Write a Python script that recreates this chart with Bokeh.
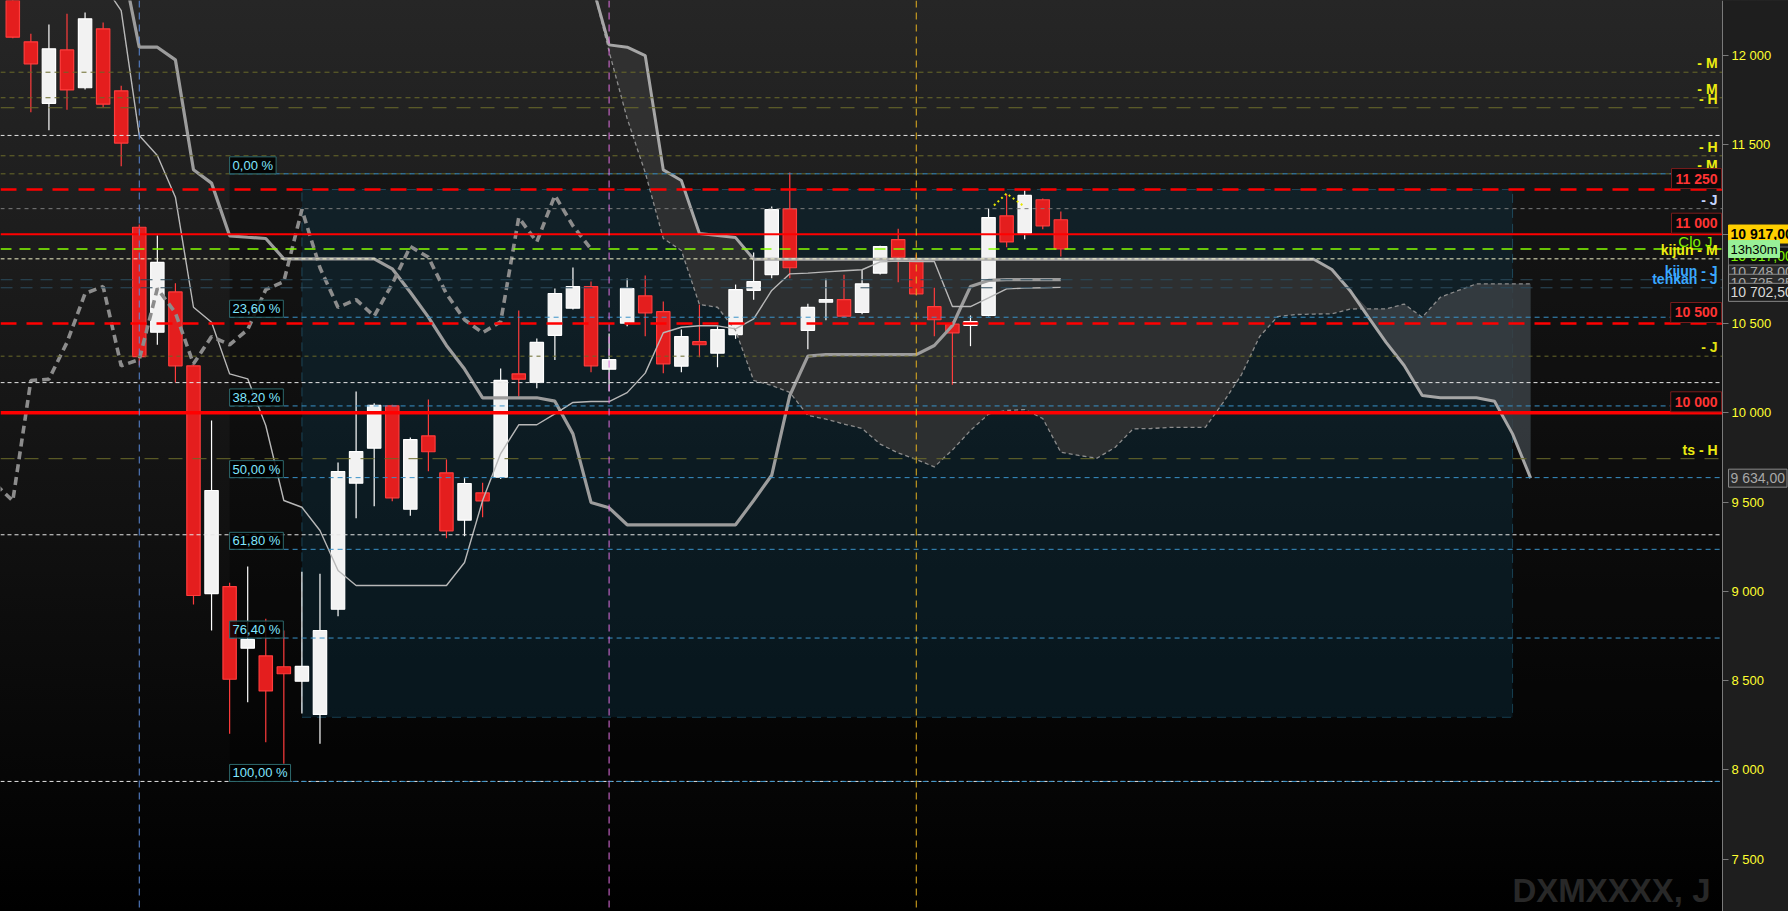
import numpy as np
from bokeh.plotting import figure
from bokeh.models import (ColumnDataSource, Span, Label, BoxAnnotation, FixedTicker,
                          CustomJSTickFormatter, Range1d, LinearAxis)
from bokeh.embed import file_html
from bokeh.resources import INLINE

# ---------------- data (daily candles, index 0..58) ----------------
OPEN = [12400, 12077, 11733, 12032, 11820, 12150, 11803, 11039, 10451, 10677,
        10263, 8988, 9027, 8682, 8639, 8578, 8497, 8311, 8900, 9606,
        9802, 10039, 9460, 9871, 9664, 9399, 9552, 9639, 10218, 10170,
        10434, 10586, 10707, 10244, 10502, 10655, 10566, 10261, 10398, 10334,
        10438, 10686, 10774, 11142, 10462, 10619, 10634, 10562, 10782, 10970,
        10857, 10594, 10496, 10490, 10546, 11103, 11006, 11193, 11081]
HIGH = [12450, 12122, 12174, 12234, 12241, 12185, 11831, 11054, 10993, 10726,
        10270, 9957, 9049, 9139, 8847, 8781, 9110, 9099, 9722, 10119,
        10054, 10045, 9862, 10074, 9739, 9634, 9608, 10248, 10573, 10416,
        10696, 10814, 10735, 10444, 10752, 10769, 10623, 10466, 10606, 10485,
        10718, 10897, 11155, 11345, 10610, 10750, 10773, 10801, 10935, 11030,
        10886, 10700, 10511, 10545, 11144, 11226, 11245, 11200, 11127]
LOW = [12097, 11683, 11582, 11697, 11810, 11711, 11381, 10265, 10381, 10170,
       8927, 8781, 8203, 8380, 8156, 8035, 8316, 8147, 8861, 9410,
       9477, 9505, 9423, 9673, 9298, 9309, 9415, 9630, 10091, 10138,
       10295, 10578, 10227, 10121, 10485, 10429, 10222, 10227, 10311, 10255,
       10414, 10633, 10754, 10754, 10356, 10518, 10535, 10552, 10774, 10731,
       10660, 10429, 10157, 10373, 10540, 10927, 10972, 11028, 10875]
CLOSE = [12103, 11954, 12038, 11808, 12206, 11728, 11510, 10314, 10842, 10263,
         8977, 9565, 8508, 8731, 8443, 8539, 8580, 8781, 9671, 9783,
         10041, 9524, 9850, 9782, 9339, 9604, 9507, 10181, 10188, 10394,
         10668, 10707, 10263, 10298, 10696, 10560, 10274, 10427, 10381, 10466,
         10690, 10735, 11138, 10812, 10590, 10634, 10541, 10722, 10931, 10871,
         10666, 10521, 10448, 10510, 11093, 10957, 11217, 11047, 10917]

# Ichimoku
TENKAN_START = 5
TENKAN = [12400, 12252, 11553, 11441, 11207, 10591, 10507, 10218, 10190, 9929,
          9509, 9471, 9341, 9117, 9033, 9033, 9033, 9033, 9033, 9033,
          9162, 9509, 9772, 9933, 9933, 9994, 10058, 10063, 10063, 10113,
          10222, 10448, 10479, 10487, 10487, 10470, 10526, 10685, 10778, 10782,
          10789, 10795, 10801, 10845, 10849, 10847, 10847, 10595, 10595, 10644,
          10694, 10698, 10700, 10702]
KIJUN_START = 6
KIJUN = [12550, 12047, 12047, 11976, 11361, 11286, 10991, 10983, 10976, 10862,
         10862, 10862, 10862, 10862, 10862, 10806, 10675, 10536, 10377, 10245,
         10084, 10084, 10084, 10084, 10065, 9882, 9498, 9468, 9373, 9373,
         9373, 9373, 9373, 9373, 9373, 9509, 9650, 10097, 10317, 10326,
         10326, 10326, 10326, 10326, 10326, 10377, 10489, 10707, 10741, 10746,
         10746, 10746, 10746]
SPAN_START = 32
SPAN_A = [12425, 12023, 11648, 11345, 10976, 10909, 10606, 10591, 10461, 10181,
          10153, 10114, 9985, 9965, 9937, 9912, 9825, 9775, 9739, 9697,
          9792, 9901, 9993, 10013, 10018, 9968, 9779, 9761, 9746, 9806,
          9910, 9912, 9918, 9918, 9919, 10060, 10214, 10427, 10539, 10550,
          10553, 10554, 10581, 10582, 10582, 10609, 10535, 10647, 10685, 10722,
          10722, 10722, 10722]
SPAN_B = [12420, 12060, 12047, 12000, 11360, 11301, 11004, 10993, 10981, 10860,
          10860, 10860, 10860, 10860, 10860, 10860, 10860, 10860, 10860, 10860,
          10860, 10860, 10860, 10860, 10860, 10860, 10860, 10860, 10860, 10860,
          10860, 10860, 10860, 10860, 10860, 10860, 10860, 10860, 10860, 10860,
          10860, 10802, 10685, 10539, 10394, 10265, 10097, 10084, 10084, 10084,
          10065, 9882, 9634]
CHIKOU_SHIFT = 26

# price levels
Y_TICKS = [7500, 8000, 8500, 9000, 9500, 10000, 10500, 11000, 11500, 12000]
RED_DASHED_LEVELS = [11250, 10500]
RED_SOLID_LEVELS = [11000, 10000]
# (price, tag, line colour, dash, tag colour)
LEVELS = [
    (11907, "- M", "#6a6a2a", "5 4", "#ecec10"),
    (11764, "- M", "#6a6a2a", "5 4", "#ecec10"),
    (11708, "- H", "#6a6a2a", "14 10", "#ecec10"),
    (11553, "", "#e6e6e6", "4 3", None),
    (11439, "- H", "#6a6a2a", "5 4", "#ecec10"),
    (11338, "- M", "#6a6a2a", "5 4", "#ecec10"),
    (11143, "- J", "#7c7c7c", "4 4", "#c4d4ff"),
    (10862, "kijun - M", "#f2f2c8", "4 3", "#ecec10"),
    (10745, "kijun - J", "#2c4c5e", "12 8", "#3aa8ff"),
    (10700, "tenkan - J", "#2c4c5e", "12 8", "#3aa8ff"),
    (10317, "- J", "#6a6a2a", "4 4", "#e2e210"),
    (10169, "", "#e6e6e6", "4 3", None),
    (9743, "ts - H", "#6a6a2a", "14 10", "#ecec10"),
    (9317, "", "#e6e6e6", "4 3", None),
    (7936, "", "#e6e6e6", "4 3", None),
]
CLOSE_TAG = "Clo J"

# Fibonacci retracement
FIB_ANCHOR = 12
FIB_HIGH = 11338
FIB_LOW = 7936
FIB_RATIOS = [0.0, 23.6, 38.2, 50.0, 61.8, 76.4, 100.0]
FIB_BOX_LEFT, FIB_BOX_RIGHT = 16, 83
FIB_BOX_TOP, FIB_BOX_BOTTOM = 11250, 8295

# vertical session markers
V_MARKERS = [(7, "#5b8bd9"), (33, "#e070e0"), (50, "#e6b020")]

# pattern marker near the last highs
PATTERN_X = [54.3, 55.0, 55.9]
PATTERN_Y = [11161, 11228, 11161]

# values shown in the price column
KIJUN_VALUE, TENKAN_VALUE, OTHER_VALUE, SPANB_END = 10748.00, 10725.25, 10702.50, 9634.00
TIME_LEFT = "13h30m"
WATERMARK = "DXMXXXX, J"

# index scale: price column starts at X_AXIS, the frame runs to X_MAX
X_MIN, X_AXIS, X_MAX = -0.68, 94.62, 98.27
Y_MIN, Y_MAX = 7207.7, 12308.5


def fr(v, dec=2):
    s = f"{v:,.{dec}f}"
    return s.replace(",", " ").replace(".", ",")


# ---------------- figure ----------------
p = figure(width=1788, height=911, x_range=Range1d(X_MIN, X_MAX), y_range=Range1d(Y_MIN, Y_MAX),
           output_backend="svg", toolbar_location=None, y_axis_location=None,
           x_axis_location=None, min_border_left=0, min_border_top=0,
           min_border_bottom=0, min_border_right=0)
p.outline_line_color = None
p.grid.visible = False
p.background_fill_alpha = 0
p.border_fill_alpha = 0
p.styles = {"background": "linear-gradient(to bottom, #262626 0%, #121212 55%, #000000 100%)"}

# price column background
p.add_layout(BoxAnnotation(left=X_AXIS, fill_color="#1e1e1e", fill_alpha=1.0, line_color=None,
                           level="underlay"))

ax = LinearAxis(fixed_location=X_AXIS)
ax.ticker = FixedTicker(ticks=Y_TICKS)
ax.formatter = CustomJSTickFormatter(code=r"return Math.round(tick).toString().replace(/\B(?=(\d{3})+(?!\d))/g, ' ');")
ax.major_label_text_color = "#ffff30"
ax.major_label_text_font = "Liberation Sans"
ax.major_label_text_font_size = "13px"
ax.axis_line_color = "#7a7a7a"
ax.major_tick_line_color = "#7a7a7a"
ax.major_tick_out = 6
ax.major_tick_in = 0
ax.minor_tick_line_color = None
ax.major_label_standoff = 3
p.add_layout(ax, "right")

# background shading of the fib zone
p.add_layout(BoxAnnotation(left=FIB_ANCHOR, right=X_AXIS, top=FIB_HIGH, bottom=FIB_LOW,
                           fill_color="#000000", fill_alpha=0.3, line_color=None, level="underlay"))
p.add_layout(BoxAnnotation(left=FIB_BOX_LEFT, right=FIB_BOX_RIGHT, top=FIB_BOX_TOP, bottom=FIB_BOX_BOTTOM,
                           fill_color="#0c3a52", fill_alpha=0.32, line_color="#3ab4e8",
                           line_dash="9 6", line_width=1, level="underlay"))

# cloud
xs_span = np.arange(SPAN_START, SPAN_START + len(SPAN_A))
a = np.array(SPAN_A, dtype=float)
b = np.array(SPAN_B, dtype=float)
p.varea(x=xs_span, y1=a, y2=np.maximum(a, b), fill_color="#333333", fill_alpha=0.85)
p.varea(x=xs_span, y1=b, y2=np.maximum(a, b), fill_color="#3a4044", fill_alpha=0.85)

# candles
idx = np.arange(len(CLOSE))
up = np.array(CLOSE) >= np.array(OPEN)
src = ColumnDataSource(dict(
    x=idx, high=HIGH, low=LOW,
    top=np.maximum(OPEN, CLOSE), bottom=np.minimum(OPEN, CLOSE),
    fill=np.where(up, "#f2f2f2", "#e41e1e"),
    edge=np.where(up, "#ffffff", "#ff3c3c"),
))
p.segment(x0="x", y0="low", x1="x", y1="high", line_color="edge", line_width=1.2, source=src)
p.vbar(x="x", width=0.74, top="top", bottom="bottom", fill_color="fill", line_color="edge",
       line_width=1.2, source=src)

# ichimoku lines
p.line(xs_span, SPAN_A, line_color="#8c8c8c", line_width=1.3, line_dash="4 3")
p.line(xs_span, SPAN_B, line_color="#a6a6a6", line_width=3)
p.line(np.arange(KIJUN_START, KIJUN_START + len(KIJUN)), KIJUN, line_color="#9c9c9c", line_width=3.2)
p.line(np.arange(TENKAN_START, TENKAN_START + len(TENKAN)), TENKAN, line_color="#b8b8b8", line_width=1.4)
p.line(idx - CHIKOU_SHIFT, CLOSE, line_color="#8c8c8c", line_width=3.6, line_dash="8 5")
p.line(PATTERN_X, PATTERN_Y, line_color="#e8e800", line_width=2, line_dash="2 3")

# vertical markers
for loc, col in V_MARKERS:
    p.add_layout(Span(location=loc, dimension="height", line_color=col, line_dash="7 5", line_width=1))


def hline(price, color, dash="solid", width=1.0, x0=X_MIN, x1=X_AXIS):
    p.segment(x0=[x0], y0=[price], x1=[x1], y1=[price], line_color=color, line_dash=dash, line_width=width)


# horizontal levels
for price, tag, col, dash, tcol in LEVELS:
    hline(price, col, dash)
hline(CLOSE[-1], "#86ff00", "11 8", 1.5, x1=X_AXIS + 0.3)

# fibonacci levels
fib_levels = [FIB_HIGH - r / 100.0 * (FIB_HIGH - FIB_LOW) for r in FIB_RATIOS]
for lv in fib_levels:
    hline(lv, "#3a92c8", "5 4", 1.0, x0=FIB_ANCHOR)

for price in RED_DASHED_LEVELS:
    hline(price, "#ff0000", "16 10", 2.5)
hline(RED_SOLID_LEVELS[0], "#ff0000", "solid", 2.0)
hline(RED_SOLID_LEVELS[1], "#ff0000", "solid", 3.5)

FONT = "Liberation Sans"

for r, lv in zip(FIB_RATIOS, fib_levels):
    p.add_layout(Label(x=FIB_ANCHOR, y=lv, text=fr(r) + " %", text_align="left", text_baseline="bottom",
                       text_font=FONT, text_font_size="13px", text_color="#80e6ff",
                       background_fill_color="#000000", background_fill_alpha=0.85,
                       border_line_color="#2e6a6e", border_line_width=1, padding=(3, 1)))

# level tags on the right edge of the chart area
for price, tag, col, dash, tcol in LEVELS:
    if tag:
        p.add_layout(Label(x=X_AXIS, y=price, x_offset=-5, y_offset=9, text=tag, text_align="right",
                           text_baseline="middle", text_font=FONT, text_font_style="bold",
                           text_font_size="14px", text_color=tcol))
p.add_layout(Label(x=X_AXIS, y=CLOSE[-1], x_offset=-10, y_offset=8, text=CLOSE_TAG, text_align="right",
                   text_baseline="middle", text_font=FONT, text_font_size="15px", text_color="#80f000"))

for price in RED_DASHED_LEVELS + RED_SOLID_LEVELS:
    p.add_layout(Label(x=X_AXIS, y=price, x_offset=-1, y_offset=1, text=fr(price, 0), text_align="right",
                       text_baseline="bottom", text_font=FONT, text_font_style="bold",
                       text_font_size="14px", text_color="#ff3434",
                       background_fill_color="#0a0a0a", background_fill_alpha=1.0,
                       border_line_color="#7a1c1c", border_line_width=1, padding=(4, 2)))


# price tags in the price column
def axis_tag(price, text, bg, border, tc, dy, bold=False, size="14px"):
    p.add_layout(Label(x=X_AXIS, y=price, x_offset=6, y_offset=dy, text=text, text_align="left",
                       text_baseline="middle", text_font=FONT, text_font_size=size,
                       text_font_style="bold" if bold else "normal", text_color=tc,
                       background_fill_color=bg, background_fill_alpha=1.0,
                       border_line_color=border, border_line_width=1, padding=(2, 1)))


axis_tag(KIJUN_VALUE, fr(KIJUN_VALUE), "#2a2a2a", "#8a8a8a", "#a8a8a8", 7)
axis_tag(TENKAN_VALUE, fr(TENKAN_VALUE), "#2a2a2a", "#8a8a8a", "#a8a8a8", 0)
axis_tag(OTHER_VALUE, fr(OTHER_VALUE), "#1c1c1c", "#8a8a8a", "#d8d8d8", -5)
axis_tag(SPANB_END, fr(SPANB_END), "#2a2a2a", "#8a8a8a", "#a8a8a8", 0)
axis_tag(CLOSE[-1], fr(CLOSE[-1]), "#101010", "#707070", "#80f000", -7)
axis_tag(CLOSE[-1], fr(CLOSE[-1]), "#ffcf00", "#ffcf00", "#000000", 15, bold=True)
axis_tag(CLOSE[-1], TIME_LEFT, "#98f098", "#98f098", "#000000", 0, size="13px")

p.add_layout(Label(x=X_AXIS, y=Y_MIN, x_offset=-12, y_offset=21, text=WATERMARK, text_align="right",
                   text_baseline="middle", text_font=FONT, text_font_style="bold",
                   text_font_size="33px", text_color="#282828"))

html = file_html(p, INLINE, title="DXMXXXX, J")
html = html.replace("</head>", "<style>html,body{margin:0;padding:0;overflow:hidden;background:#000;}</style></head>", 1)
open("out.html", "w").write(html)
